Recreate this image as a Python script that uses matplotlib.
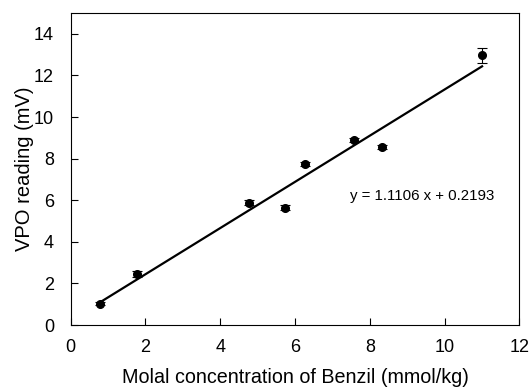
import numpy as np
import matplotlib.pyplot as plt

plt.rcParams['font.family'] = ['Liberation Sans', 'DejaVu Sans']

# VPO calibration with benzil
conc = [0.78, 1.78, 4.76, 5.72, 6.26, 7.57, 8.33, 11.0]
reading = [1.02, 2.46, 5.87, 5.64, 7.76, 8.90, 8.57, 12.98]
err = [0.08, 0.15, 0.12, 0.12, 0.10, 0.10, 0.10, 0.36]
slope, intercept = 1.1106, 0.2193

fig = plt.figure(figsize=(5.31, 3.87), dpi=100)
ax = fig.add_axes([0.1331, 0.1602, 0.8452, 0.8062])

ax.errorbar(conc, reading, yerr=err, fmt='o', color='black', ms=5.5,
            ecolor='black', elinewidth=0.8, capsize=3.5, capthick=0.8, zorder=3)

xfit = np.array([conc[0], conc[-1]])
ax.plot(xfit, slope * xfit + intercept, color='black', lw=1.6)

ax.text(7.46, 6.19, 'y = 1.1106 x + 0.2193', fontsize=10.8, va='center')

ax.set_xlim(0, 12)
ax.set_ylim(0, 15)
ax.set_xticks(range(0, 13, 2))
ax.set_yticks(range(0, 15, 2))
ax.tick_params(direction='in', length=5, labelsize=13, width=0.8)
ax.tick_params(axis='x', pad=10)
ax.tick_params(axis='y', pad=12)
ax.set_xlabel('Molal concentration of Benzil (mmol/kg)', fontsize=14.2, labelpad=9)
ax.set_ylabel('VPO reading (mV)', fontsize=14.5, labelpad=0)
for s in ax.spines.values():
    s.set_linewidth(0.8)

fig.savefig('out.png', dpi=100)
